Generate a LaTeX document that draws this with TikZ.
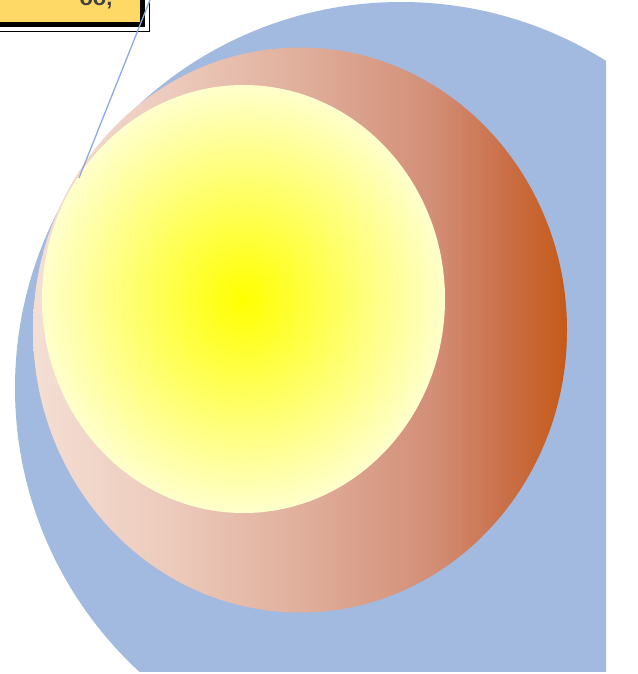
\documentclass[tikz,border=0pt]{standalone}
\usepackage{fontspec}
\setmainfont{Liberation Sans}
\usepackage{xcolor}
\usetikzlibrary{shapes.geometric,fit}
\definecolor{ringBlue}{HTML}{A2B9E0}
\definecolor{lineBlue}{HTML}{8FAADC}
\definecolor{peachA}{HTML}{F4DED3}
\definecolor{peachB}{HTML}{EDCBBC}
\definecolor{peachC}{HTML}{E0AF9C}
\definecolor{peachD}{HTML}{D38E76}
\definecolor{peachE}{HTML}{CA7049}
\definecolor{peachF}{HTML}{C55A18}
\definecolor{sunCore}{HTML}{FFFF00}
\definecolor{sunPale}{HTML}{FFFFCC}
\definecolor{tagFill}{HTML}{FFD966}
\definecolor{tagInk}{HTML}{404040}
\pgfdeclarehorizontalshading{peachband}{100bp}{color(0bp)=(peachA); color(25bp)=(peachA);
  color(37.5bp)=(peachB); color(50bp)=(peachC); color(62.5bp)=(peachD);
  color(69bp)=(peachE); color(75bp)=(peachF); color(100bp)=(peachF)}
\tikzset{
  disc/.style={ellipse,inner sep=0pt,draw=none},
  outer/.style={disc,fill=ringBlue},
  middle/.style={disc,shading=peachband},
  inner/.style={disc,inner color=sunCore,outer color=sunPale},
  tag/.style={rectangle,fill=tagFill,draw=black,line width=5pt,inner sep=0pt},
  tagtext/.style={font=\fontsize{22}{26}\selectfont\bfseries,text=tagInk,inner sep=0pt},
  pointer/.style={draw=lineBlue,line width=1.3pt},
}

\begin{document}
\begin{tikzpicture}[x=1pt,y=-1pt]
  \useasboundingbox (0,0) rectangle (637,674);
  \clip (0,0) rectangle (606,671);
    \node[outer,minimum width=772pt,minimum height=772pt] at (401,388) (ring) {};
    \node[middle,minimum width=534pt,minimum height=565pt] at (300,330) (shell) {};
    \node[inner,minimum width=403pt,minimum height=428pt] at (243.5,299) (core) {};

    \node[tag,minimum width=170pt,minimum height=60pt,anchor=south east] at (145,27) (box) {};
    \node[fit=(box),inner sep=4pt,draw=black,thin] (frame) {};
    \node[tagtext,anchor=base] at (96,6) (cap) {oo,};

    \coordinate (src) at (150,0);
    \coordinate (tip) at (79,178);
    \draw[pointer] (src) -- (tip);
  \end{tikzpicture}
\end{document}
